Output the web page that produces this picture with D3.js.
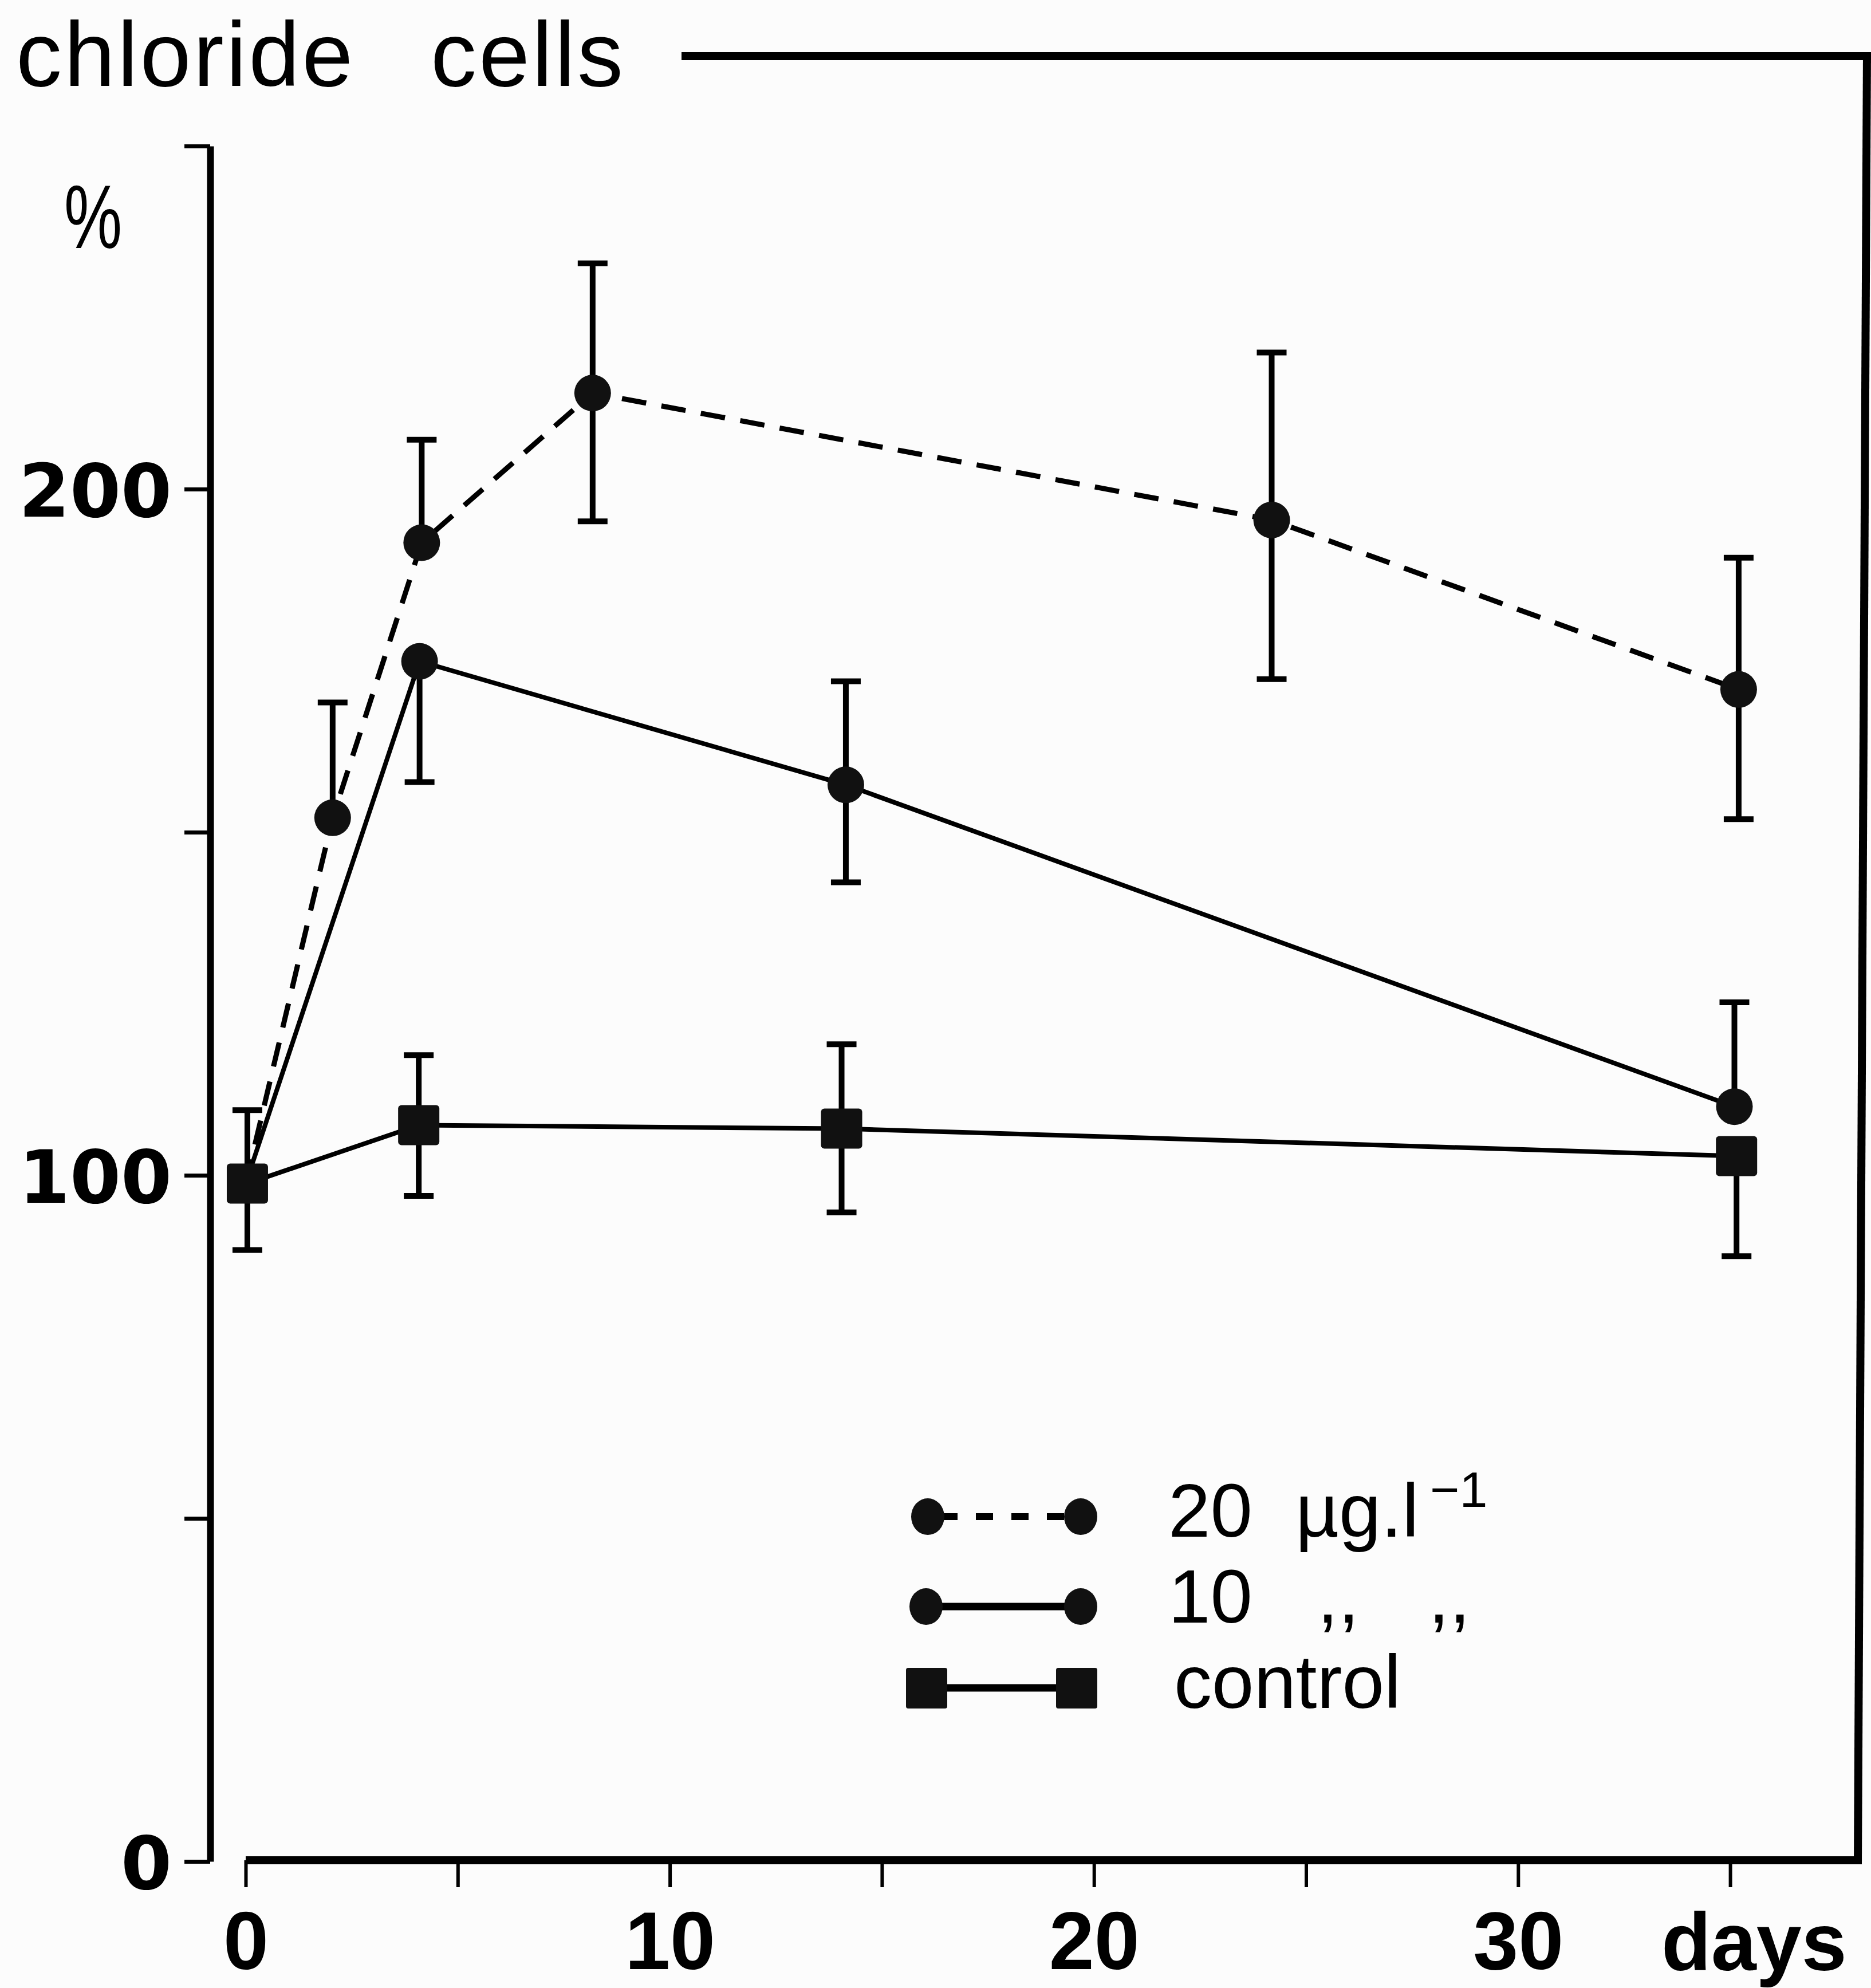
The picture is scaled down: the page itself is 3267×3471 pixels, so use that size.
<!DOCTYPE html>
<html>
<head>
<meta charset="utf-8">
<script src="https://cdn.jsdelivr.net/npm/d3@7"></script>
<style>
  body { margin: 0; background: #fcfcfc; }
  svg { display: block; }
</style>
</head>
<body>
<script>
// values (% of control, days of exposure)
var days20 = [0, 2.05, 4.15, 8.18, 24.19, 35.2];
var mean20 = [98.8, 152.1, 192.2, 214.0, 195.5, 170.8];
var up20   = [0, 16.8, 15.0, 18.9, 24.4, 19.2];
var down20 = [0, 0, 0, 18.7, 23.2, 18.9];

var days10 = [0, 4.1, 14.15, 35.1];
var mean10 = [98.8, 174.9, 156.9, 110.0];
var up10   = [0, 0, 15.1, 15.2];
var down10 = [0, 17.6, 14.2, 0];

var daysC = [0.04, 4.08, 14.05, 35.15];
var meanC = [98.8, 107.3, 106.8, 102.8];
var upC   = [10.7, 10.2, 12.3, 0];
var downC = [9.7, 10.3, 12.2, 14.6];

var yTicks = [0, 50, 100, 150, 200, 250];
var yLabels = [0, 100, 200];
var xTicks = [0, 5, 10, 15, 20, 25, 30, 35];
var xLabels = [0, 10, 20, 30];
var legendLabels = ["20", "10", "control"];

var W = 3267, H = 3471;
var svg = d3.select("body").append("svg")
  .attr("width", W).attr("height", H);

var x = d3.scaleLinear().domain([0, 35]).range([429, 429 + 35 * 74.06]);
var y = d3.scaleLinear().domain([0, 250]).range([3250, 255]);

function series(d, m, u, l) {
  return d.map(function(v, i) { return {d: v, m: m[i], up: u[i], down: l[i]}; });
}
var s20 = series(days20, mean20, up20, down20);
var s10 = series(days10, mean10, up10, down10);
var sC  = series(daysC, meanC, upC, downC);

// frame bits: top rule next to the title and the right edge
svg.append("line")
  .attr("x1", 1190).attr("y1", 98).attr("x2", W).attr("y2", 98)
  .attr("stroke", "#000").attr("stroke-width", 14);
svg.append("line")
  .attr("x1", 3260).attr("y1", 92).attr("x2", 3244).attr("y2", 3255)
  .attr("stroke", "#000").attr("stroke-width", 14);

// title
var title = svg.append("text")
  .attr("y", 150)
  .style("font-family", "'Liberation Sans', Arial, sans-serif")
  .style("font-size", "160px")
  .style("letter-spacing", "4px")
  .attr("fill", "#000");
title.append("tspan").attr("x", 28).text("chloride");
title.append("tspan").attr("x", 752).text("cells");

svg.append("text")
  .attr("transform", "translate(112,433) scale(0.72,1)")
  .style("font-family", "'Liberation Sans', Arial, sans-serif")
  .style("font-size", "158px")
  .text("%");

// y axis
var yAxis = d3.axisLeft(y)
  .tickValues(yTicks)
  .tickSize(45)
  .tickSizeOuter(0)
  .tickPadding(22)
  .tickFormat(function(d) { return yLabels.indexOf(d) >= 0 ? d : ""; });

var gy = svg.append("g").attr("transform", "translate(367,0)").call(yAxis);
gy.select(".domain").attr("stroke-width", 12).attr("stroke", "#000");
gy.selectAll(".tick line").attr("stroke-width", 7).attr("stroke", "#000");
gy.selectAll(".tick text")
  .attr("dy", "0.37em")
  .attr("fill", "#000")
  .style("font-family", "'DejaVu Sans', sans-serif")
  .style("font-weight", "bold")
  .style("font-size", "128px");

// x axis
var xAxis = d3.axisBottom(x)
  .tickValues(xTicks)
  .tickSize(47)
  .tickSizeOuter(0)
  .tickFormat(function(d) { return xLabels.indexOf(d) >= 0 ? d : ""; });

var gx = svg.append("g").attr("transform", "translate(0,3248)").call(xAxis);
gx.select(".domain").remove();
gx.append("line")
  .attr("x1", x(0)).attr("x2", 3250).attr("y1", 0).attr("y2", 0)
  .attr("stroke", "#000").attr("stroke-width", 14);
gx.selectAll(".tick line").attr("stroke-width", 6).attr("stroke", "#000");
gx.selectAll(".tick text")
  .attr("y", 190).attr("dy", 0)
  .attr("fill", "#000")
  .style("font-family", "'Liberation Sans', Arial, sans-serif")
  .style("font-weight", "bold")
  .style("font-size", "142px");

svg.append("text")
  .attr("x", 2901).attr("y", 3440)
  .style("font-family", "'Liberation Sans', Arial, sans-serif")
  .style("font-weight", "bold")
  .style("font-size", "142px")
  .text("days");

// lines
var line = d3.line()
  .x(function(p) { return x(p.d); })
  .y(function(p) { return y(p.m); });

svg.append("path").datum(s20).attr("d", line)
  .attr("fill", "none").attr("stroke", "#000")
  .attr("stroke-width", 9).attr("stroke-dasharray", "43,27");
svg.append("path").datum(s10).attr("d", line)
  .attr("fill", "none").attr("stroke", "#000").attr("stroke-width", 8);
svg.append("path").datum(sC).attr("d", line)
  .attr("fill", "none").attr("stroke", "#000").attr("stroke-width", 8);

// error bars (one sided where the original only shows one side)
function errorBars(data) {
  var g = svg.append("g").attr("stroke", "#000");
  data.forEach(function(p) {
    var cx = x(p.d);
    [p.up, -p.down].forEach(function(e) {
      if (!e) return;
      g.append("line")
        .attr("x1", cx).attr("x2", cx)
        .attr("y1", y(p.m)).attr("y2", y(p.m + e))
        .attr("stroke-width", 10);
      g.append("line")
        .attr("x1", cx - 26).attr("x2", cx + 26)
        .attr("y1", y(p.m + e)).attr("y2", y(p.m + e))
        .attr("stroke-width", 10);
    });
  });
}
errorBars(s20);
errorBars(s10);
errorBars(sC);

// markers
svg.append("g").selectAll("circle")
  .data(s20.slice(1).concat(s10.slice(1)))
  .join("circle")
  .attr("cx", function(p) { return x(p.d); })
  .attr("cy", function(p) { return y(p.m); })
  .attr("r", 32)
  .attr("fill", "#111");

svg.append("g").selectAll("rect")
  .data(sC)
  .join("rect")
  .attr("x", function(p) { return x(p.d) - 36; })
  .attr("y", function(p) { return y(p.m) - 35; })
  .attr("width", 72).attr("height", 70)
  .attr("rx", 6)
  .attr("fill", "#111");

// legend
var legendY = [2648, 2805, 2947];
var legendBase = [2683, 2833, 2982];
var lg = svg.append("g");

lg.append("line")
  .attr("x1", 1620).attr("x2", 1887).attr("y1", legendY[0]).attr("y2", legendY[0])
  .attr("stroke", "#000").attr("stroke-width", 12).attr("stroke-dasharray", "30,32")
  .attr("stroke-dashoffset", -22);
lg.append("line")
  .attr("x1", 1617).attr("x2", 1887).attr("y1", legendY[1]).attr("y2", legendY[1])
  .attr("stroke", "#000").attr("stroke-width", 13);
lg.append("line")
  .attr("x1", 1618).attr("x2", 1880).attr("y1", legendY[2]).attr("y2", legendY[2])
  .attr("stroke", "#000").attr("stroke-width", 13);

[[1620, 1887], [1617, 1887]].forEach(function(pair, i) {
  pair.forEach(function(cx) {
    lg.append("ellipse").attr("cx", cx).attr("cy", legendY[i])
      .attr("rx", 29).attr("ry", 32).attr("fill", "#111");
  });
});
[1618, 1880].forEach(function(cx) {
  lg.append("rect").attr("x", cx - 36).attr("y", legendY[2] - 35)
    .attr("width", 72).attr("height", 71).attr("rx", 4).attr("fill", "#111");
});

var legendFont = "'Liberation Sans', Arial, sans-serif";
var t1 = lg.append("text").attr("y", legendBase[0])
  .style("font-family", legendFont).style("font-size", "132px");
t1.append("tspan").attr("x", 2040).text(legendLabels[0]);
t1.append("tspan").attr("x", 2262).text("µg.l");
t1.append("tspan").attr("x", 2497).attr("y", legendBase[0] - 52)
  .style("font-size", "88px").text("−1");

var t2 = lg.append("text").attr("y", legendBase[1])
  .style("font-family", legendFont).style("font-size", "132px");
t2.append("tspan").attr("x", 2040).text(legendLabels[1]);
t2.append("tspan").attr("x", 2300).text(",,");
t2.append("tspan").attr("x", 2494).text(",,");

lg.append("text").attr("x", 2050).attr("y", legendBase[2])
  .style("font-family", legendFont).style("font-size", "132px")
  .text(legendLabels[2]);
</script>
</body>
</html>
